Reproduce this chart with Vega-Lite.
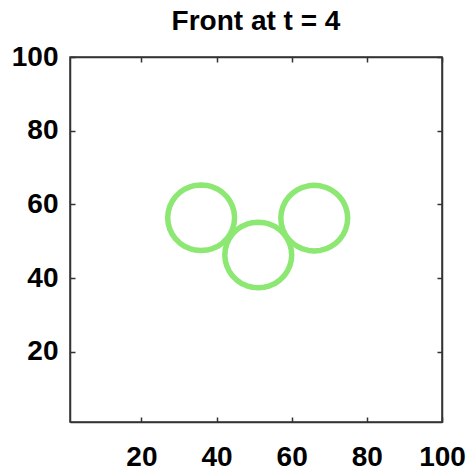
{
 "$schema": "https://vega.github.io/schema/vega-lite/v6.json",
 "width": 372, "height": 365,
 "autosize": {"type": "none"},
 "padding": {"left": 70, "top": 57, "right": 25, "bottom": 49},
 "background": "white",
 "title": {"text": "Front at t = 4", "fontSize": 28, "font": "Liberation Sans", "fontWeight": "bold", "color": "#000", "offset": 7, "anchor": "middle"},
 "config": {"view": {"stroke": "#333", "strokeWidth": 1.5},
   "axis": {"grid": false, "domainColor": "#333", "domainWidth": 1.5, "tickColor": "#333", "tickWidth": 1.5, "tickSize": -5, "labelFont": "Liberation Sans", "labelFontSize": 28, "labelFontWeight": "bold", "labelColor": "#000", "labelFlush": false, "labelOverlap": false, "title": null}},
 "data": {"values": [
  {"c":"A","i":0,"x":44.8,"y":56.4},{"c":"A","i":1,"x":44.66,"y":57.95},{"c":"A","i":2,"x":44.26,"y":59.44},{"c":"A","i":3,"x":43.61,"y":60.85},{"c":"A","i":4,"x":42.72,"y":62.12},{"c":"A","i":5,"x":41.62,"y":63.22},{"c":"A","i":6,"x":40.35,"y":64.11},{"c":"A","i":7,"x":38.94,"y":64.76},{"c":"A","i":8,"x":37.45,"y":65.16},{"c":"A","i":9,"x":35.9,"y":65.3},{"c":"A","i":10,"x":34.35,"y":65.16},{"c":"A","i":11,"x":32.86,"y":64.76},{"c":"A","i":12,"x":31.45,"y":64.11},{"c":"A","i":13,"x":30.18,"y":63.22},{"c":"A","i":14,"x":29.08,"y":62.12},{"c":"A","i":15,"x":28.19,"y":60.85},{"c":"A","i":16,"x":27.54,"y":59.44},{"c":"A","i":17,"x":27.14,"y":57.95},{"c":"A","i":18,"x":27.0,"y":56.4},{"c":"A","i":19,"x":27.14,"y":54.85},{"c":"A","i":20,"x":27.54,"y":53.36},{"c":"A","i":21,"x":28.19,"y":51.95},{"c":"A","i":22,"x":29.08,"y":50.68},{"c":"A","i":23,"x":30.18,"y":49.58},{"c":"A","i":24,"x":31.45,"y":48.69},{"c":"A","i":25,"x":32.86,"y":48.04},{"c":"A","i":26,"x":34.35,"y":47.64},{"c":"A","i":27,"x":35.9,"y":47.5},{"c":"A","i":28,"x":37.45,"y":47.64},{"c":"A","i":29,"x":38.94,"y":48.04},{"c":"A","i":30,"x":40.35,"y":48.69},{"c":"A","i":31,"x":41.62,"y":49.58},{"c":"A","i":32,"x":42.72,"y":50.68},{"c":"A","i":33,"x":43.61,"y":51.95},{"c":"A","i":34,"x":44.26,"y":53.36},{"c":"A","i":35,"x":44.66,"y":54.85},{"c":"A","i":36,"x":44.8,"y":56.4},
  {"c":"B","i":0,"x":60.0,"y":46.3},{"c":"B","i":1,"x":59.86,"y":47.85},{"c":"B","i":2,"x":59.46,"y":49.34},{"c":"B","i":3,"x":58.81,"y":50.75},{"c":"B","i":4,"x":57.92,"y":52.02},{"c":"B","i":5,"x":56.82,"y":53.12},{"c":"B","i":6,"x":55.55,"y":54.01},{"c":"B","i":7,"x":54.14,"y":54.66},{"c":"B","i":8,"x":52.65,"y":55.06},{"c":"B","i":9,"x":51.1,"y":55.2},{"c":"B","i":10,"x":49.55,"y":55.06},{"c":"B","i":11,"x":48.06,"y":54.66},{"c":"B","i":12,"x":46.65,"y":54.01},{"c":"B","i":13,"x":45.38,"y":53.12},{"c":"B","i":14,"x":44.28,"y":52.02},{"c":"B","i":15,"x":43.39,"y":50.75},{"c":"B","i":16,"x":42.74,"y":49.34},{"c":"B","i":17,"x":42.34,"y":47.85},{"c":"B","i":18,"x":42.2,"y":46.3},{"c":"B","i":19,"x":42.34,"y":44.75},{"c":"B","i":20,"x":42.74,"y":43.26},{"c":"B","i":21,"x":43.39,"y":41.85},{"c":"B","i":22,"x":44.28,"y":40.58},{"c":"B","i":23,"x":45.38,"y":39.48},{"c":"B","i":24,"x":46.65,"y":38.59},{"c":"B","i":25,"x":48.06,"y":37.94},{"c":"B","i":26,"x":49.55,"y":37.54},{"c":"B","i":27,"x":51.1,"y":37.4},{"c":"B","i":28,"x":52.65,"y":37.54},{"c":"B","i":29,"x":54.14,"y":37.94},{"c":"B","i":30,"x":55.55,"y":38.59},{"c":"B","i":31,"x":56.82,"y":39.48},{"c":"B","i":32,"x":57.92,"y":40.58},{"c":"B","i":33,"x":58.81,"y":41.85},{"c":"B","i":34,"x":59.46,"y":43.26},{"c":"B","i":35,"x":59.86,"y":44.75},{"c":"B","i":36,"x":60.0,"y":46.3},
  {"c":"C","i":0,"x":74.9,"y":56.3},{"c":"C","i":1,"x":74.76,"y":57.85},{"c":"C","i":2,"x":74.36,"y":59.34},{"c":"C","i":3,"x":73.71,"y":60.75},{"c":"C","i":4,"x":72.82,"y":62.02},{"c":"C","i":5,"x":71.72,"y":63.12},{"c":"C","i":6,"x":70.45,"y":64.01},{"c":"C","i":7,"x":69.04,"y":64.66},{"c":"C","i":8,"x":67.55,"y":65.06},{"c":"C","i":9,"x":66.0,"y":65.2},{"c":"C","i":10,"x":64.45,"y":65.06},{"c":"C","i":11,"x":62.96,"y":64.66},{"c":"C","i":12,"x":61.55,"y":64.01},{"c":"C","i":13,"x":60.28,"y":63.12},{"c":"C","i":14,"x":59.18,"y":62.02},{"c":"C","i":15,"x":58.29,"y":60.75},{"c":"C","i":16,"x":57.64,"y":59.34},{"c":"C","i":17,"x":57.24,"y":57.85},{"c":"C","i":18,"x":57.1,"y":56.3},{"c":"C","i":19,"x":57.24,"y":54.75},{"c":"C","i":20,"x":57.64,"y":53.26},{"c":"C","i":21,"x":58.29,"y":51.85},{"c":"C","i":22,"x":59.18,"y":50.58},{"c":"C","i":23,"x":60.28,"y":49.48},{"c":"C","i":24,"x":61.55,"y":48.59},{"c":"C","i":25,"x":62.96,"y":47.94},{"c":"C","i":26,"x":64.45,"y":47.54},{"c":"C","i":27,"x":66.0,"y":47.4},{"c":"C","i":28,"x":67.55,"y":47.54},{"c":"C","i":29,"x":69.04,"y":47.94},{"c":"C","i":30,"x":70.45,"y":48.59},{"c":"C","i":31,"x":71.72,"y":49.48},{"c":"C","i":32,"x":72.82,"y":50.58},{"c":"C","i":33,"x":73.71,"y":51.85},{"c":"C","i":34,"x":74.36,"y":53.26},{"c":"C","i":35,"x":74.76,"y":54.75},{"c":"C","i":36,"x":74.9,"y":56.3}
 ]},
 "layer": [
  {"mark": {"type": "line", "color": "#8ce872", "strokeWidth": 5.5, "strokeJoin": "round", "strokeCap": "round"},
   "encoding": {
    "x": {"field": "x", "type": "quantitative", "scale": {"domain": [1, 100], "nice": false, "zero": false}, "axis": {"orient": "bottom", "labelPadding": 26, "values": [20, 40, 60, 80, 100]}},
    "y": {"field": "y", "type": "quantitative", "scale": {"domain": [1, 100], "nice": false, "zero": false}, "axis": {"orient": "left", "labelPadding": 17, "values": [20, 40, 60, 80, 100]}},
    "order": {"field": "i", "type": "quantitative"},
    "detail": {"field": "c"}}},
  {"mark": {"type": "point", "opacity": 0},
   "encoding": {
    "x": {"field": "x", "type": "quantitative", "scale": {"domain": [1, 100], "nice": false, "zero": false}, "axis": {"orient": "top", "labels": false, "values": [20, 40, 60, 80, 100]}},
    "y": {"field": "y", "type": "quantitative", "scale": {"domain": [1, 100], "nice": false, "zero": false}, "axis": {"orient": "right", "labels": false, "values": [20, 40, 60, 80, 100]}}}}
 ],
 "resolve": {"axis": {"x": "independent", "y": "independent"}}
}
